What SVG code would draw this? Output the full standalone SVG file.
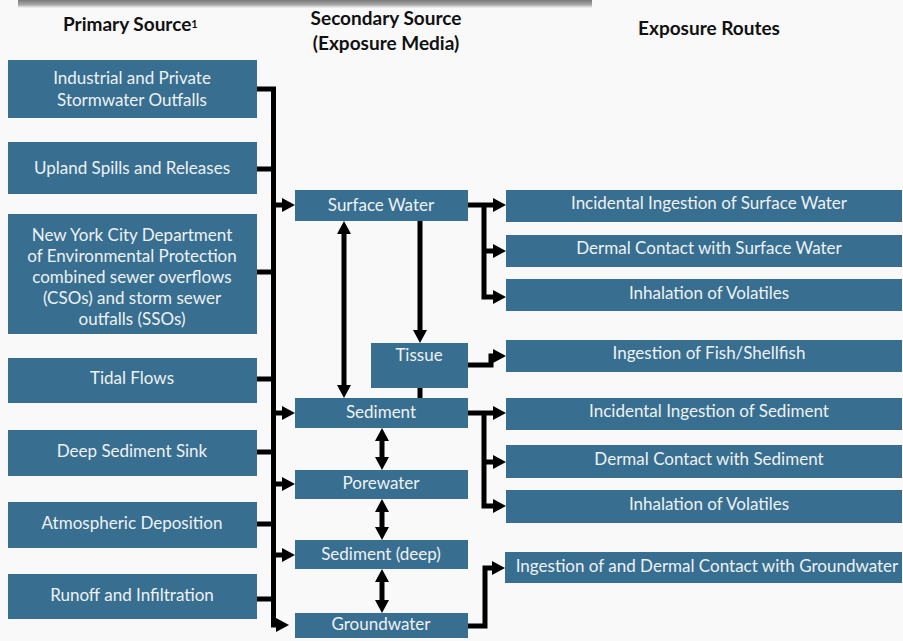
<svg xmlns="http://www.w3.org/2000/svg" width="903" height="641" viewBox="0 0 903 641">
<defs>
<linearGradient id="bar" x1="0" y1="0" x2="0" y2="1">
<stop offset="0" stop-color="#7a7a7a"/>
<stop offset="0.6" stop-color="#a8a8a8"/>
<stop offset="1" stop-color="#f9f9f9"/>
</linearGradient>
<marker id="ah" markerUnits="userSpaceOnUse" markerWidth="14" markerHeight="14" refX="7" refY="7" orient="auto-start-reverse" viewBox="0 0 14 14">
<path d="M0,0 L13,7 L0,14 z" fill="#000"/>
</marker>
</defs>
<style>
.box{fill:#386e8f}
.t{font-family:Lato,"Open Sans","Noto Sans",sans-serif;font-size:17px;fill:#edf2f6;text-anchor:middle}
.h{font-family:Lato,"Open Sans","Noto Sans",sans-serif;font-size:19px;font-weight:bold;fill:#111}
.c{fill:none;stroke:#000;stroke-width:5;stroke-linejoin:miter}
.a{marker-end:url(#ah)}
.d{marker-start:url(#ah);marker-end:url(#ah)}
</style>
<rect width="903" height="641" fill="#f9f9f9"/>
<rect x="18" y="0" width="574" height="8" fill="url(#bar)"/>
<g id="headers">
<text class="h" x="63" y="31">Primary Source<tspan font-size="11" dy="-3">1</tspan></text>
<text class="h" x="386" y="25" text-anchor="middle">Secondary Source</text>
<text class="h" x="386" y="50" text-anchor="middle">(Exposure Media)</text>
<text class="h" x="709" y="35" text-anchor="middle">Exposure Routes</text>
</g>
<g id="connectors">
<path class="c a" d="M257,89 H273.5 V625 H283"/>
<path class="c" d="M257,169 H274"/>
<path class="c" d="M257,272 H274"/>
<path class="c" d="M257,379 H274"/>
<path class="c" d="M257,452 H274"/>
<path class="c" d="M257,524 H274"/>
<path class="c" d="M257,599 H274"/>
<path class="c a" d="M274,205 H289"/>
<path class="c a" d="M274,413 H289"/>
<path class="c a" d="M274,484 H289"/>
<path class="c a" d="M274,555 H289"/>
<path class="c a" d="M468,205 H500"/>
<path class="c a" d="M484,205 V297 H500"/>
<path class="c a" d="M484,251 H500"/>
<path class="c a" d="M468,413 H500"/>
<path class="c a" d="M484,413 V506 H500"/>
<path class="c a" d="M484,462 H500"/>
<path class="c a" d="M468,365 H491 V356 H500"/>
<path class="c a" d="M468,626 H485 V568 H499"/>
<path class="c a" d="M420,221 V337"/>
<path class="c" d="M420,388 V398"/>
<path class="c d" d="M344,227 V392"/>
<path class="c d" d="M382,434 V464"/>
<path class="c d" d="M382,505 V534"/>
<path class="c d" d="M382,575 V607"/>
</g>
<g id="n-industrial"><rect class="box" x="8" y="60" width="249" height="58"/><text class="t" x="132" y="84">Industrial and Private</text><text class="t" x="132" y="106">Stormwater Outfalls</text></g>
<g id="n-upland"><rect class="box" x="8" y="142" width="249" height="52"/><text class="t" x="132" y="174">Upland Spills and Releases</text></g>
<g id="n-nyc"><rect class="box" x="8" y="214" width="249" height="120"/>
<text class="t" x="132" y="241">New York City Department</text>
<text class="t" x="132" y="262">of Environmental Protection</text>
<text class="t" x="132" y="283">combined sewer overflows</text>
<text class="t" x="132" y="304">(CSOs) and storm sewer</text>
<text class="t" x="132" y="325">outfalls (SSOs)</text></g>
<g id="n-tidal"><rect class="box" x="8" y="358" width="249" height="45"/><text class="t" x="132" y="384">Tidal Flows</text></g>
<g id="n-deep"><rect class="box" x="8" y="430" width="249" height="46"/><text class="t" x="132" y="457">Deep Sediment Sink</text></g>
<g id="n-atmos"><rect class="box" x="8" y="502" width="249" height="46"/><text class="t" x="132" y="529">Atmospheric Deposition</text></g>
<g id="n-runoff"><rect class="box" x="8" y="574" width="249" height="45"/><text class="t" x="132" y="601">Runoff and Infiltration</text></g>
<g id="n-surface"><rect class="box" x="295" y="190" width="173" height="31"/><text class="t" x="381" y="211">Surface Water</text></g>
<g id="n-tissue"><rect class="box" x="371" y="343" width="97" height="45"/><text class="t" x="419" y="361">Tissue</text></g>
<g id="n-sediment"><rect class="box" x="295" y="398" width="173" height="30"/><text class="t" x="381" y="418">Sediment</text></g>
<g id="n-porewater"><rect class="box" x="295" y="470" width="173" height="29"/><text class="t" x="381" y="489">Porewater</text></g>
<g id="n-seddeep"><rect class="box" x="295" y="540" width="173" height="29"/><text class="t" x="381" y="560">Sediment (deep)</text></g>
<g id="n-groundwater"><rect class="box" x="295" y="613" width="173" height="25"/><text class="t" x="381" y="630">Groundwater</text></g>
<g id="r-ingsw"><rect class="box" x="506" y="190" width="396" height="32"/><text class="t" x="709" y="209">Incidental Ingestion of Surface Water</text></g>
<g id="r-dermsw"><rect class="box" x="506" y="235" width="396" height="32"/><text class="t" x="709" y="254">Dermal Contact with Surface Water</text></g>
<g id="r-inhsw"><rect class="box" x="506" y="279" width="396" height="32"/><text class="t" x="709" y="299">Inhalation of Volatiles</text></g>
<g id="r-fish"><rect class="box" x="506" y="340" width="396" height="32"/><text class="t" x="709" y="359">Ingestion of Fish/Shellfish</text></g>
<g id="r-ingsed"><rect class="box" x="506" y="398" width="396" height="32"/><text class="t" x="709" y="417">Incidental Ingestion of Sediment</text></g>
<g id="r-dermsed"><rect class="box" x="506" y="445" width="396" height="33"/><text class="t" x="709" y="465">Dermal Contact with Sediment</text></g>
<g id="r-inhsed"><rect class="box" x="506" y="490" width="396" height="33"/><text class="t" x="709" y="510">Inhalation of Volatiles</text></g>
<g id="r-gw"><rect class="box" x="505" y="552" width="397" height="31"/><text class="t" x="707" y="572">Ingestion of and Dermal Contact with Groundwater</text></g>
</svg>
